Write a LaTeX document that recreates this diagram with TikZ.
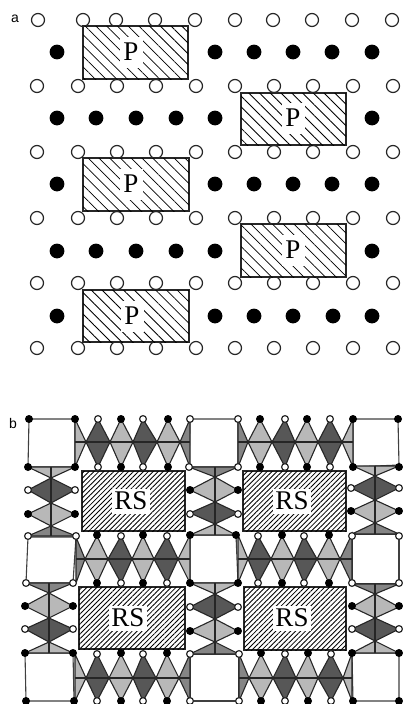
\documentclass[tikz,border=0pt]{standalone}
\usepackage{fontspec}
\setmainfont{Liberation Serif}
\setsansfont{Liberation Sans}
\usetikzlibrary{patterns.meta}
\colorlet{darktone}{black!66}
\colorlet{midtone}{black!48}
\colorlet{lighttone}{black!28}
\colorlet{edgetone}{black!85}
\newcommand{\diamondrow}[4]{%
	\foreach \xl/\xm/\xr/\tone in {#4} {
		\filldraw[chainedge, fill=\tone] (\xl,#2) -- (\xm,#1) -- (\xr,#2) -- (\xm,#3) -- cycle;
	}
}
\newcommand{\diamondcolumn}[4]{%
	\foreach \yt/\ym/\yb/\xl/\xr/\tone in {#4} {
		\filldraw[chainedge, fill=\tone] (\xl,\ym) -- (#2,\yt) -- (\xr,\ym) -- (#2,\yb) -- cycle;
	}
	\draw[chainedge] (#2,#1) -- (#2,#3);
}
\begin{document}
\begin{tikzpicture}[x=1pt, y=-1pt,
		opensite/.style={draw=black!85, fill=white, line width=1.2pt},
		blacksite/.style={fill=black},
		chainedge/.style={draw=edgetone, line width=1.1pt},
		squarecell/.style={draw=black!75, fill=white, line width=1.1pt},
		pblock/.style={draw=black!85, line width=1.2pt, fill=white, postaction={pattern={Lines[angle=-45, distance=7.6pt, line width=0.85pt]}}},
		rsblock/.style={draw=black!85, line width=1.3pt, fill=white, postaction={pattern={Lines[angle=45, distance=3.5pt, line width=0.85pt]}}},
		plabel/.style={fill=white, font=\fontsize{27}{27}\selectfont, inner sep=0pt, minimum width=23pt, minimum height=31pt},
		rslabel/.style={fill=white, font=\fontsize{27}{27}\selectfont, inner sep=0pt, minimum width=38pt, minimum height=25pt},
		paneltag/.style={font=\sffamily\fontsize{14}{14}\selectfont}]
	\useasboundingbox (0,0) rectangle (403,704);
	% panel a
	\node[paneltag] (taga) at (15,19) {a};
	\foreach \y/\xlist in {20/{38,83,116,155,195,235,273,312,352,392}, 86/{37,78,117,156,196,235,274,313,353,393}, 152/{37,78,117,156,196,235,274,313,353,393}, 218/{37,78,117,156,196,235,274,313,353,393}, 283/{37,78,117,156,196,235,274,313,353,393}, 348/{37,78,117,156,196,235,274,313,353,393}} {
		\foreach \x in \xlist {
			\draw[opensite] (\x,\y) circle (6.5);
		}
	}
	\foreach \y/\xlist in {52/{57,215,254,293,332,372}, 118/{57,96,136,176,215,372}, 184/{57,215,254,293,332,372}, 251/{57,96,136,176,215,372}, 316/{57,215,254,293,333,372}} {
		\foreach \x in \xlist {
			\fill[blacksite] (\x,\y) circle (7.4);
		}
	}
	\foreach \xa/\ya/\xb/\yb in {83/26/188/79, 241/93/346/145, 83/158/189/211, 241/224/346/277, 83/290/189/342} {
		\draw[pblock] (\xa,\ya) rectangle (\xb,\yb);
	}
	\node[plabel] (p1) at (131,52) {P};
	\node[plabel] (p2) at (293,118) {P};
	\node[plabel] (p3) at (131,184) {P};
	\node[plabel] (p4) at (293,250) {P};
	\node[plabel] (p5) at (132,316) {P};
	% panel b
	\node[paneltag] (tagb) at (13,423) {b};
	% empty squares
	\foreach \xa/\ya/\xb/\yb/\xc/\yc/\xd/\yd in {29/419/75/419/75/467/28/467, 190/419/238/419/238/467/189/467, 353/419/398/419/399/465/353/467, 28/537/76/537/73/583/26/583, 190/535/236/535/238/583/190/583, 352/534/399/534/399/584/352/584, 25/653/73/653/74/701/26/701, 190/654/239/654/239/701/190/701, 352/653/399/653/399/701/353/701} {
		\draw[squarecell] (\xa,\ya) -- (\xb,\yb) -- (\xc,\yc) -- (\xd,\yd) -- cycle;
	}
	% horizontal chains
	\diamondrow{419}{442}{467}{86/98/110/darktone, 110/121/133/lighttone, 133/143/157/darktone, 157/168/180/lighttone, 248/260/272/lighttone, 272/285/295/darktone, 295/307/318/lighttone, 318/330/342/darktone}
	\diamondrow{536}{559}{583}{85/97/108/lighttone, 108/121/132/darktone, 132/143/154/lighttone, 154/167/178/darktone, 248/258/271/darktone, 271/282/294/lighttone, 294/304/317/darktone, 317/329/340/lighttone}
	\diamondrow{654}{678}{701}{86/97/109/darktone, 109/121/133/lighttone, 133/143/156/darktone, 156/167/179/lighttone, 249/261/273/lighttone, 273/285/296/darktone, 296/308/318/lighttone, 318/331/343/darktone}
	% end triangles of the chains
	\foreach \xa/\xb/\ya/\ym/\yb/\tone in {75/86/419/442/467/lighttone, 190/180/419/442/467/midtone, 238/248/419/442/467/midtone, 353/342/419/442/467/lighttone, 76/85/537/559/583/midtone, 190/178/535/559/583/lighttone, 238/248/535/559/583/lighttone, 352/340/534/559/584/midtone, 75/86/654/678/701/lighttone, 190/179/654/678/701/midtone, 239/249/654/678/701/midtone, 352/343/653/678/701/lighttone} {
		\filldraw[chainedge, fill=\tone] (\xa,\ya) -- (\xb,\ym) -- (\xa,\yb) -- cycle;
	}
	\foreach \y/\xa/\xb in {442/75/190, 442/238/353, 559/76/190, 559/238/352, 678/75/190, 678/239/352} {
		\draw[chainedge] (\xa,\y) -- (\xb,\y);
	}
	% vertical chains
	\foreach \xa/\xb/\xm/\ya/\yb/\tone in {28/75/51/467/478/lighttone, 28/76/51/536/526/midtone, 189/238/215/467/477/midtone, 190/236/215/535/524/lighttone, 353/399/375/466/476/lighttone, 352/399/375/534/523/midtone, 26/73/49/583/593/midtone, 25/73/49/653/642/lighttone, 190/238/215/583/594/lighttone, 190/239/215/654/642/midtone, 352/399/375/584/594/midtone, 352/399/375/653/641/lighttone} {
		\filldraw[chainedge, fill=\tone] (\xa,\ya) -- (\xm,\yb) -- (\xb,\ya) -- cycle;
	}
	\diamondcolumn{467}{51}{536}{478/490/503/28/75/darktone, 503/514/526/28/75/lighttone}
	\diamondcolumn{467}{215}{535}{477/490/502/190/238/lighttone, 502/513/524/190/238/darktone}
	\diamondcolumn{466}{375}{534}{476/488/500/351/399/darktone, 500/511/523/351/399/lighttone}
	\diamondcolumn{583}{49}{653}{593/606/618/25/73/lighttone, 618/629/642/25/73/darktone}
	\diamondcolumn{583}{215}{654}{594/607/619/190/238/darktone, 619/631/642/190/238/lighttone}
	\diamondcolumn{584}{375}{653}{594/607/618/352/399/lighttone, 618/629/641/352/399/darktone}
	% hatched blocks
	\foreach \xa/\ya/\xb/\yb in {82/471/185/531, 243/471/346/531, 79/587/185/649, 244/587/346/650} {
		\draw[rsblock] (\xa,\ya) rectangle (\xb,\yb);
	}
	\node[rslabel] (rs1) at (131,501) {RS};
	\node[rslabel] (rs2) at (292,501) {RS};
	\node[rslabel] (rs3) at (128,618) {RS};
	\node[rslabel] (rs4) at (292,618) {RS};
	% sites on the corners
	\foreach \y/\xlist in {419/{98,143,190,238,285,330}, 467/{98,143,189,238,285,330}, 490/{28,75}, 488/{351,399}, 514/{190,238}, 536/{28,76,121,167,258,304,352,399}, 583/{26,73,121,167,258,304,352,399}, 607/{190,238}, 629/{25,73,352,399}, 654/{97,143,190,239,285,331}, 701/{97,143,190,239,285,331}} {
		\foreach \x in \xlist {
			\draw[opensite] (\x,\y) circle (3.4);
		}
	}
	\foreach \y/\xlist in {419/{29,75,121,168,260,307,353,398}, 467/{28,75,121,168,260,307,353,399}, 490/{190,238}, 511/{351,399}, 514/{28,75}, 535/{97,143,190,236,282,329}, 583/{97,143,190,238,282,329}, 606/{25,73,352,399}, 631/{190,238}, 653/{25,73,121,167,261,308,352,399}, 701/{26,74,121,167,261,308,353,399}} {
		\foreach \x in \xlist {
			\fill[blacksite] (\x,\y) circle (4);
		}
	}
\end{tikzpicture}
\end{document}
